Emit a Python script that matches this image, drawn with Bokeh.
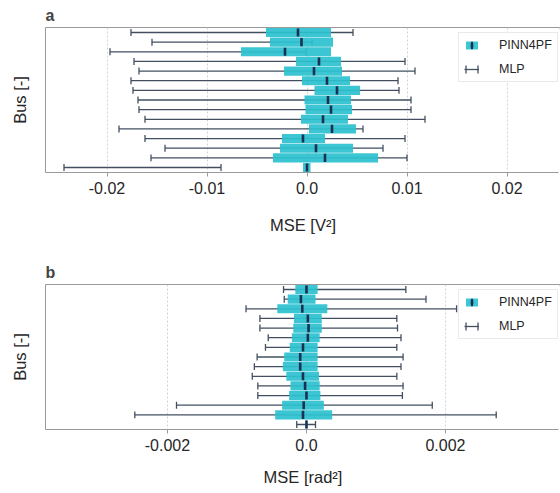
import numpy as np
from bokeh.plotting import figure
from bokeh.models import ColumnDataSource, Range1d, FixedTicker, Legend, LegendItem
from bokeh.transform import dodge
from bokeh.layouts import column
from bokeh.embed import file_html
from bokeh.resources import INLINE

# ---------------- data ----------------
bus = list(range(1, 16))

# panel a : voltage magnitude MSE [V^2]
a_pinn_low = [-0.0041, -0.0037, -0.0066, -0.0011, -0.0023, -0.0005, 0.00075, -0.00025,
              -0.00015, -0.0006, 0.0002, -0.0025, -0.0027, -0.0034, -0.0004]
a_pinn_high = [0.0024, 0.0026, 0.0024, 0.0034, 0.0035, 0.0043, 0.0053, 0.0044,
               0.0045, 0.0041, 0.0049, 0.0018, 0.0046, 0.0071, 0.00035]
a_pinn_mean = [-0.0009, -0.00055, -0.0022, 0.0012, 0.0007, 0.002, 0.003, 0.0021,
               0.0024, 0.0016, 0.0025, -0.0004, 0.0009, 0.0018, 0.0]
a_mlp_low = [-0.0176, -0.0155, -0.0197, -0.0173, -0.0168, -0.0176, -0.0174, -0.0169,
             -0.0168, -0.0162, -0.0188, -0.0162, -0.0142, -0.0156, -0.0243]
a_mlp_high = [0.0046, 0.0005, -0.0001, 0.0098, 0.0108, 0.0091, 0.0092, 0.0104,
              0.0104, 0.0118, 0.0056, 0.0098, 0.0076, 0.0100, -0.0086]
a_ticks = [-0.02, -0.01, 0.0, 0.01, 0.02]
a_tick_labels = ["-0.02", "-0.01", "0.0", "0.01", "0.02"]

# panel b : voltage angle MSE [rad^2]
b_pinn_low = [-0.00016, -0.00027, -0.00042, -0.00018, -0.00019, -0.00021, -0.00024, -0.00032,
              -0.00034, -0.00029, -0.00023, -0.00025, -0.00035, -0.00045, -0.00001]
b_pinn_high = [0.00016, 0.00013, 0.0003, 0.00022, 0.00022, 0.00019, 0.00016, 0.00016,
               0.00016, 0.00018, 0.00019, 0.0002, 0.00025, 0.00037, 0.00001]
b_pinn_mean = [0.0, -0.00008, -0.00006, 0.00002, 0.00003, 0.00002, -0.00005, -0.00009,
               -0.00009, -0.00005, -0.00002, 0.0, -0.00004, -0.00005, 0.0]
b_mlp_low = [-0.00033, -0.00032, -0.00087, -0.00067, -0.00067, -0.00055, -0.00059, -0.00071,
             -0.00075, -0.00078, -0.0007, -0.0007, -0.00187, -0.00247, -0.00014]
b_mlp_high = [0.00143, 0.00172, 0.00216, 0.0013, 0.00131, 0.00136, 0.0013, 0.00139,
              0.00136, 0.0013, 0.00139, 0.00138, 0.00181, 0.00273, 0.00013]
b_ticks = [-0.002, 0.0, 0.002]
b_tick_labels = ["-0.002", "0.0", "0.002"]

series_labels = ["PINN4PF", "MLP"]

# ---------------- style ----------------
FONT = "Liberation Sans"
CYAN = "#2bc1cf"
MLP_COLOR = "#434f60"
MEAN_COLOR = "#1b3152"
FRAME_COLOR = "#9a9a9a"
TEXT_COLOR = "#262626"
FIG_W = 560
LEFT = 45
TOP = 27
FRAME_W = FIG_W - LEFT
FRAME_H = 145


def panel(title, xlabel, ticks, tick_labels, x_start, x_end, pl, ph, pm, ml, mh,
          height, bottom, xlabel_standoff):
    p = figure(width=FIG_W, height=height, output_backend="svg", toolbar_location=None,
               x_range=Range1d(x_start, x_end), y_range=Range1d(15.52, 0.48),
               min_border_left=LEFT, min_border_right=0, min_border_top=TOP,
               min_border_bottom=bottom)
    src = ColumnDataSource(dict(bus=bus, pl=pl, ph=ph, pm=pm, ml=ml, mh=mh))

    r_line = p.segment(x0="ml", y0="bus", x1="mh", y1="bus", source=src,
                       line_color=MLP_COLOR, line_width=1.3)
    for end in ("ml", "mh"):
        p.segment(x0=end, y0=dodge("bus", -0.36), x1=end, y1=dodge("bus", 0.36), source=src,
                  line_color=MLP_COLOR, line_width=1.3)
    r_box = p.hbar(y="bus", left="pl", right="ph", height=0.95, source=src,
                   fill_color=CYAN, fill_alpha=0.92, line_color=None)
    p.segment(x0="pm", y0=dodge("bus", -0.42), x1="pm", y1=dodge("bus", 0.42), source=src,
              line_color=MEAN_COLOR, line_width=2.6)

    # legend-only proxies (NaN data, nothing drawn in the plot)
    nan_src = ColumnDataSource(dict(v=[np.nan]))
    r_tick_proxy = p.ellipse(x="v", y="v", width=3.4, height=10, width_units="screen",
                             height_units="screen", source=nan_src,
                             fill_color=MEAN_COLOR, line_color=None)
    r_cap_proxy = p.hbar(y="v", left="v", right="v", height=1, source=nan_src,
                         fill_color=None, line_color=MLP_COLOR, line_width=1.3,
                         line_dash="0 12 8 12 8")

    legend = Legend(items=[LegendItem(label=series_labels[0], renderers=[r_box, r_tick_proxy]),
                           LegendItem(label=series_labels[1], renderers=[r_line, r_cap_proxy])],
                    location=(413, 90), margin=0, padding=5, spacing=10,
                    glyph_width=15, glyph_height=10, label_height=14, label_standoff=20,
                    label_text_font=FONT, label_text_font_size="12.5px",
                    label_text_color=TEXT_COLOR, border_line_color="#d6d6d6",
                    border_line_width=1, background_fill_alpha=0.9)
    p.add_layout(legend)

    p.title.text = title
    p.title.text_font = FONT
    p.title.text_font_size = "16px"
    p.title.text_font_style = "bold"
    p.title.align = "left"
    p.title.standoff = 7
    p.title.offset = 0

    ticker = FixedTicker(ticks=ticks)
    p.xaxis.ticker = ticker
    p.xaxis.major_label_overrides = {t: l for t, l in zip(ticks, tick_labels)}
    p.xaxis.axis_label = xlabel
    p.xaxis.axis_label_standoff = xlabel_standoff
    p.xaxis.major_label_standoff = 5
    p.xaxis.major_tick_out = 4
    p.xaxis.major_tick_in = 0
    p.xaxis.minor_tick_line_color = None
    p.xaxis.major_tick_line_color = FRAME_COLOR
    p.xaxis.axis_line_color = None

    p.yaxis.ticker = FixedTicker(ticks=[])
    p.yaxis.axis_label = "Bus [-]"
    p.yaxis.axis_label_standoff = 17
    p.yaxis.major_tick_line_color = None
    p.yaxis.minor_tick_line_color = None
    p.yaxis.axis_line_color = None

    for ax in (p.xaxis, p.yaxis):
        ax.axis_label_text_font = FONT
        ax.axis_label_text_font_size = "16.5px"
        ax.axis_label_text_font_style = "normal"
        ax.axis_label_text_color = TEXT_COLOR
        ax.major_label_text_font = FONT
        ax.major_label_text_font_size = "16px"
        ax.major_label_text_color = TEXT_COLOR

    p.xgrid.ticker = ticker
    p.xgrid.grid_line_color = "#ccd3db"
    p.xgrid.grid_line_dash = "2 2"
    p.xgrid.grid_line_width = 1
    p.ygrid.visible = False

    p.outline_line_color = FRAME_COLOR
    p.outline_line_width = 1
    # top, (no right edge: the frame runs on past the page), bottom and left
    p.outline_line_dash = f"{FRAME_W} {FRAME_H} {FRAME_W + FRAME_H}"
    p.background_fill_color = "white"
    p.border_fill_color = "white"
    return p


pa = panel("a", "MSE [V²]", a_ticks, a_tick_labels, -0.02615, -0.02615 + FRAME_W / 10000,
           a_pinn_low, a_pinn_high, a_pinn_mean, a_mlp_low, a_mlp_high,
           height=257, bottom=85, xlabel_standoff=19)
pb = panel("b", "MSE [rad²]", b_ticks, b_tick_labels, -0.003755, -0.003755 + FRAME_W / 69500,
           b_pinn_low, b_pinn_high, b_pinn_mean, b_mlp_low, b_mlp_high,
           height=236, bottom=64, xlabel_standoff=14)

layout = column(pa, pb, spacing=0)
open("out.html", "w").write(file_html(layout, INLINE))
